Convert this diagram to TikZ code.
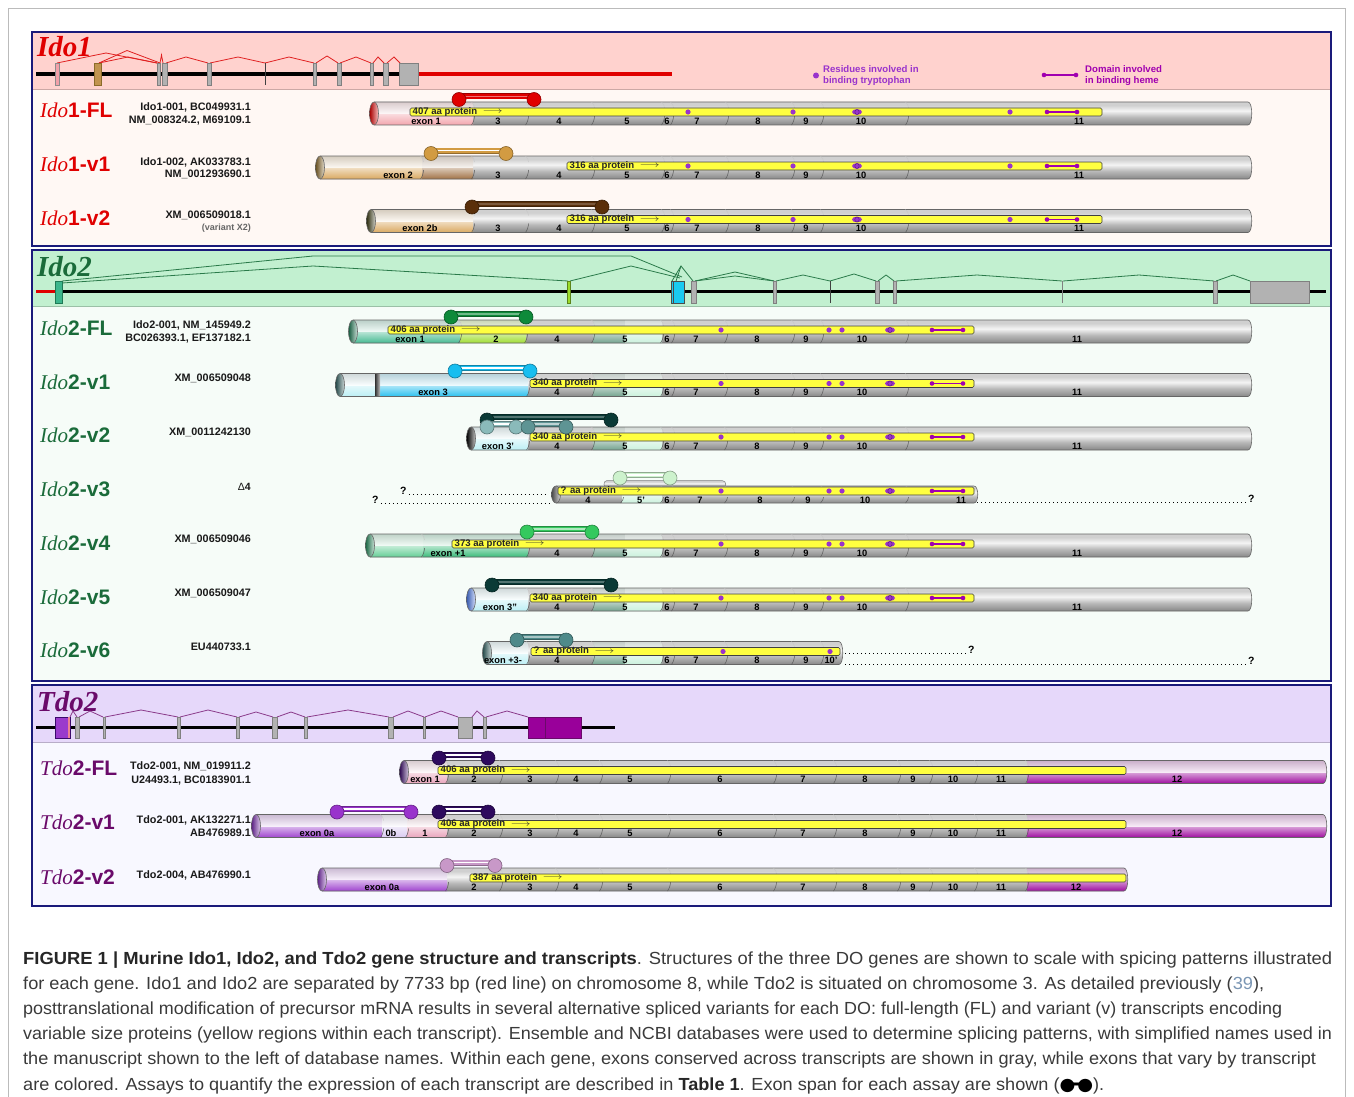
\documentclass[tikz,border=0pt]{standalone}
\usepackage{fontspec}
\usepackage{graphicx}
\setmainfont{Liberation Sans}
\newfontfamily\serifti{Liberation Serif}
\newfontfamily\dejavu{DejaVu Sans}

\definecolor{tubeA}{HTML}{D0D0D0}
\definecolor{tubeB}{HTML}{F4F4F4}
\definecolor{tubeC}{HTML}{888888}
\definecolor{tubeM}{HTML}{B8B8B8}
\definecolor{protyellow}{HTML}{FFFF40}
\definecolor{trypurple}{HTML}{9933CC}
\definecolor{domc}{HTML}{A000B0}
\definecolor{panelblue}{HTML}{1A1A7A}
\definecolor{ihd}{HTML}{FFD2CE}
\definecolor{ilow}{HTML}{FFF8F4}
\definecolor{iihd}{HTML}{C2F0D0}
\definecolor{iilow}{HTML}{F6FCF8}
\definecolor{thd}{HTML}{E6D8FA}
\definecolor{tlow}{HTML}{F8F8FF}
\definecolor{idoonered}{HTML}{E00000}
\definecolor{idotwogreen}{HTML}{1A6B3A}
\definecolor{tdopurple}{HTML}{6A0A6A}
\definecolor{iarc}{HTML}{E02020}
\definecolor{iiarc}{HTML}{2A7A4A}
\definecolor{tarc}{HTML}{8A3A8A}
\definecolor{ipink}{HTML}{F2A0A8}
\definecolor{itan}{HTML}{D8A458}
\definecolor{ibrown}{HTML}{9C6B3C}
\definecolor{itanE}{HTML}{8B6B2A}
\definecolor{iolive}{HTML}{3C3C14}
\definecolor{dbTan}{HTML}{D29B42}
\definecolor{dbBrown}{HTML}{5A2F0A}
\definecolor{iidkgreen}{HTML}{1F7A55}
\definecolor{iigreen}{HTML}{3CB68C}
\definecolor{iilime}{HTML}{9BDC2A}
\definecolor{iifive}{HTML}{6C9E88}
\definecolor{iimint}{HTML}{C8F0DA}
\definecolor{iiteal}{HTML}{2F6060}
\definecolor{iipale}{HTML}{B8EEF4}
\definecolor{iicyan}{HTML}{20BDEE}
\definecolor{iidkgreenb}{HTML}{238A5A}
\definecolor{iigreenb}{HTML}{5CCB90}
\definecolor{iigreenc}{HTML}{30B873}
\definecolor{iiblue}{HTML}{4A78E8}
\definecolor{iigray}{HTML}{606060}
\definecolor{dbGreen}{HTML}{0E8A3A}
\definecolor{dbCyan}{HTML}{18BEF0}
\definecolor{dbDark}{HTML}{0A3A36}
\definecolor{dbTealL}{HTML}{8ABABA}
\definecolor{dbTeal}{HTML}{5E9494}
\definecolor{dbPale}{HTML}{CDF2CD}
\definecolor{dbGreenb}{HTML}{34C95E}
\definecolor{dbTealb}{HTML}{4E8A8A}
\definecolor{tdark}{HTML}{3A0A6A}
\definecolor{tpink}{HTML}{E8A0B8}
\definecolor{tmag}{HTML}{99009A}
\definecolor{tpurple}{HTML}{9A3ACC}
\definecolor{tlav}{HTML}{D8C8F0}
\definecolor{tpurpleE}{HTML}{7A2AB0}
\definecolor{dbDkPurple}{HTML}{2E0A5E}
\definecolor{dbPurple}{HTML}{9933CC}
\definecolor{dbMauve}{HTML}{C898C8}
\definecolor{captext}{HTML}{3A3A3A}
\definecolor{capblue}{HTML}{7A96B4}
\definecolor{framegray}{HTML}{BBBBBB}

\pgfdeclareverticalshading{tubesh}{100bp}{color(0bp)=(tubeC); color(25bp)=(tubeC); color(42bp)=(tubeM); color(56bp)=(tubeB); color(68bp)=(tubeA); color(100bp)=(tubeA)}

\newsavebox\capbox
\newlength\caplen
\newcommand\capline[2]{\sbox\capbox{#2}\setlength\caplen{\wd\capbox}\pgfmathsetmacro\capsx{#1/\caplen}\scalebox{\capsx}[1]{\usebox\capbox}}

\def\hh{11.5}
\newcommand\tube[4]{%
 \shade[shading=tubesh] (#1+4,\Y-\hh) -- (#2-4,\Y-\hh) .. controls (#2+1,\Y-\hh) and (#2+1,\Y+\hh) .. (#2-4,\Y+\hh) -- (#1+4,\Y+\hh) -- cycle;
 \begin{scope}
  \clip (#1+4,\Y-\hh) -- (#2-4,\Y-\hh) .. controls (#2+1,\Y-\hh) and (#2+1,\Y+\hh) .. (#2-4,\Y+\hh) -- (#1+4,\Y+\hh) -- cycle;
  #4
 \end{scope}
 \draw[tubeline] (#1+4,\Y-\hh) -- (#2-4,\Y-\hh) .. controls (#2+1,\Y-\hh) and (#2+1,\Y+\hh) .. (#2-4,\Y+\hh) -- (#1+4,\Y+\hh);
 \shadedraw[left color=#3!75!black, right color=#3!25!white, draw=black!60, line width=0.6] (#1+4,\Y) ellipse [x radius=4.5, y radius=\hh];
}
\newcommand\sg[3]{%
 \shade[top color=#3!35!white, bottom color=#3] (#1,\Y) rectangle (#2,\Y+\hh+1);
 \shade[top color=#3!18!tubeA, bottom color=#3!8!white] (#1,\Y-\hh-1) rectangle (#2,\Y);
}
\newcommand\bd[1]{%
 \draw[bdline] (#1-1.5,\Y+\hh) .. controls (#1+0.5,\Y+\hh-2.5) and (#1+1.5,\Y+5) .. (#1+1.5,\Y+2.5);
 \draw[bdfaint] (#1-1.5,\Y-\hh) .. controls (#1+0.5,\Y-\hh+2) and (#1+1.5,\Y-8) .. (#1+1.5,\Y-5.5);
}
\newcommand\bds[1]{\foreach \bb in {#1} {\bd{\bb}}}
\newcommand\prot[4]{%
 \draw[protbox] (#2,\Y-5.5) rectangle (#3,\Y+2.5);
 \node[prottxt, anchor=west] (#1) at (#2+2.5,\Y-1.5) {#4\ \ \raisebox{0.5pt}{\scalebox{1.25}[0.9]{$\longrightarrow$}}};
}
\newcommand\elabs[1]{\foreach \px/\tx [count=\kk] in {#1} {\node[exlab] (\R l\kk) at (\px,\Y+7.6) {\tx};}}
\newcommand\ovdot[1]{\fill[trypurple] (#1,\Y-1.5) ellipse [x radius=5, y radius=2.9];
 \draw[trypurple!55!black, line width=0.4] (#1,\Y-1.5) ellipse [x radius=2.2, y radius=2.5];}
\newcommand\domainbar[2]{\draw[domc, line width=1.6] (#1,\Y-1.5) -- (#2,\Y-1.5);
 \fill[domc] (#1,\Y-1.5) circle [radius=2.3] (#2,\Y-1.5) circle [radius=2.3];}
\newcommand\trpA{\foreach \px in {688,793,1010} {\fill[trypurple] (\px,\Y-1.5) circle [radius=2.6];}\ovdot{857}\domainbar{1047}{1077}}
\newcommand\trpB{\foreach \px in {721,829,842} {\fill[trypurple] (\px,\Y-1.5) circle [radius=2.6];}\ovdot{890}\domainbar{932}{963}}
\newcommand\db[5]{%
 \draw[line width=6, #4!70!black] (#1,#3-3) -- (#2,#3-3);
 \draw[line width=4.8, #4] (#1,#3-3) -- (#2,#3-3);
 \draw[line width=1.5, #5] (#1,#3-3) -- (#2,#3-3);
 \filldraw[fill=#4, draw=#4!65!black, line width=0.6] (#1,#3) circle [radius=7] (#2,#3) circle [radius=7];
}
\newcommand\fiveseg{\sg{593}{625}{iifive}\sg{625}{662}{iimint}}
\newcommand\tlab[5]{\node[anchor=base west, inner sep=0, text=#2] (#1) at (40,#3) {\fontsize{21}{24}\selectfont{\serifti\itshape #4}\bfseries #5};}

\tikzset{
 tubeline/.style={draw=black!60, line width=0.6},
 bdline/.style={draw=black!65, line width=0.5},
 bdfaint/.style={draw=black!22, line width=0.4},
 protbox/.style={draw=black!75, fill=protyellow, line width=0.6, rounded corners=1.5},
 prottxt/.style={font=\fontsize{9.6}{10}\selectfont\bfseries, inner sep=0, text=black!85},
 exlab/.style={font=\fontsize{9.3}{10}\selectfont\bfseries, inner sep=0},
 acc/.style={font=\fontsize{10.8}{12}\selectfont\bfseries, anchor=base east, inner sep=0, text=black!90},
 gtitle/.style={font=\fontsize{29}{30}\selectfont\serifti\bfseries\itshape, anchor=base west, inner sep=0},
 panel/.style={draw=panelblue, line width=1.8},
 hdgray/.style={fill=black!30, draw=black!50, line width=0.5},
 dotline/.style={line width=0.9, dash pattern=on 0.9pt off 3.1pt},
 qm/.style={font=\fontsize{10.5}{12}\selectfont\bfseries, inner sep=0, anchor=base west},
 legtxt/.style={font=\fontsize{9.6}{10.8}\selectfont\bfseries, inner sep=0, anchor=west, align=left},
 captxt/.style={anchor=base west, inner sep=0, text=captext, font=\fontsize{17.5}{20}\selectfont},
}

\begin{document}
\begin{tikzpicture}[x=1pt,y=-1pt]
\useasboundingbox (0,0) rectangle (1354,1097);
\fill[white] (0,0) rectangle (1354,1097);
\draw[framegray, line width=0.8] (8.5,1105) -- (8.5,8.5) -- (1345.5,8.5) -- (1345.5,1105);

% ---------------- panels
\fill[ilow] (32,32) rectangle (1331,246);
\fill[ihd] (32,32) rectangle (1331,89);
\draw[ihd!80!black, line width=0.5] (32,89) -- (1331,89);
\fill[iilow] (32,250) rectangle (1331,681);
\fill[iihd] (32,250) rectangle (1331,306.5);
\draw[iihd!80!black, line width=0.5] (32,306.5) -- (1331,306.5);
\fill[tlow] (32,685) rectangle (1331,906);
\fill[thd] (32,685) rectangle (1331,742);
\draw[thd!80!black, line width=0.5] (32,742) -- (1331,742);

% ---------------- Ido1 header
\node[gtitle, text=idoonered] (tA) at (37,57) {Ido1};
\draw[line width=3.5] (36,74) -- (399,74);
\draw[line width=3.5, idoonered] (418,74) -- (672,74);
\begin{scope}[iarc, line width=0.8]
\draw (57,63) -- (106,53) -- (157,63);
\draw (99,63) -- (127,50.5) -- (160,63);
\draw (99,63) -- (128,57) -- (157,63);
\draw (160,63) -- (161.5,55) -- (163,63);
\draw (166,63) -- (186,57) -- (208,63);
\draw (210,63) -- (238,57) -- (265,63);
\draw (265,63) -- (289,57) -- (314,63);
\draw (316,63) -- (327,56) -- (338,63);
\draw (340,63) -- (356,57) -- (371,63);
\draw (373,63) -- (378,57) -- (384,63);
\draw (387,63) -- (394,57) -- (400,63);
\end{scope}
\draw[fill=ipink, draw=black!45, line width=0.5] (55,63) rectangle (59,85.5);
\draw[fill=itan!90!black, draw=itanE, line width=0.6] (94,63) rectangle (101.5,85.5);
\foreach \a/\bb in {157/160,162/167,207/211,313/316,337/341,370/373,383/388,399/418}
  {\draw[hdgray] (\a,63) rectangle (\bb,85.5);}
\draw[black!75, line width=0.8] (265,63) -- (265,85.5);
% legend
\fill[trypurple] (816,75.5) circle [radius=3];
\node[legtxt, text=trypurple] (legA) at (823,75.5) {Residues involved in\\binding tryptophan};
\draw[domc, line width=1.6] (1044,75) -- (1076,75);
\fill[domc] (1044,75) circle [radius=2.3] (1076,75) circle [radius=2.3];
\node[legtxt, text=domc] (legB) at (1085,75.5) {Domain involved\\in binding heme};

% ---------------- Ido1 transcripts
\tlab{lA1}{idoonered}{118}{Ido}{1-FL}
\tlab{lA2}{idoonered}{171}{Ido}{1-v1}
\tlab{lA3}{idoonered}{225}{Ido}{1-v2}
\node[acc] (aA1) at (251,110.5) {Ido1-001, BC049931.1};
\node[acc] (aA2) at (251,123.5) {NM\_008324.2, M69109.1};
\node[acc] (aA3) at (251,165.5) {Ido1-002, AK033783.1};
\node[acc] (aA4) at (251,177.5) {NM\_001293690.1};
\node[acc] (aA5) at (251,218.5) {XM\_006509018.1};
\node[acc, text=black!60, font=\fontsize{9}{10}\selectfont\bfseries] (aA6) at (251,230) {(variant X2)};

% Ido1-FL
\def\Y{113.5}\def\R{ia}
\tube{370}{1252}{idoonered}{\sg{374}{473}{ipink}}
\bds{473,527,593,663,672,727,793,822,907}
\prot{iap}{410}{1102}{407 aa protein}
\elabs{426/exon 1,498/3,559/4,627/5,667/6,697/7,758/8,806/9,861/10,1079/11}
\trpA
\db{459}{534}{99.5}{idoonered}{idoonered!55!white}

% Ido1-v1
\def\Y{167.5}\def\R{ib}
\tube{316}{1252}{itanE}{\sg{320}{422}{itan}\sg{422}{473}{ibrown}}
\bds{422,473,527,593,663,672,727,793,822,907}
\prot{ibp}{567}{1102}{316 aa protein}
\elabs{398/exon 2,498/3,559/4,627/5,667/6,697/7,758/8,806/9,861/10,1079/11}
\trpA
\db{431}{506}{153.5}{dbTan}{white}

% Ido1-v2
\def\Y{221}\def\R{ic}
\tube{367}{1252}{iolive}{\sg{371}{473}{itan}}
\bds{473,527,593,663,672,727,793,822,907}
\prot{icp}{567}{1102}{316 aa protein}
\elabs{420/exon 2b,498/3,559/4,627/5,667/6,697/7,758/8,806/9,861/10,1079/11}
\trpA
\db{472}{602}{207}{dbBrown}{dbBrown!80!white}

% ---------------- Ido2 header
\node[gtitle, text=idotwogreen] (tB) at (37,276) {Ido2};
\draw[line width=3.5, idoonered] (36,291.7) -- (56,291.7);
\draw[line width=3.5] (56,291.7) -- (1326,291.7);
\begin{scope}[iiarc, line width=0.8]
\draw (62,281) -- (313,256) -- (631,256) -- (682,277);
\draw (62,283) -- (313,266) -- (568,281);
\draw (570,281) -- (631,266) -- (680,278);
\draw (672,281) -- (681,266) -- (693,281);
\draw (676,281) -- (681,266);
\draw (695,281) -- (735,272) -- (774,281);
\draw (695,281) -- (735,276) -- (774,281);
\draw (776,281) -- (803,275) -- (830,281);
\draw (830,281) -- (854,274) -- (876,281);
\draw (878,281) -- (886,275) -- (894,281);
\draw (896,281) -- (977,275) -- (1062,281);
\draw (1063,281) -- (1139,275) -- (1214,281);
\draw (1216,281) -- (1233,275) -- (1250,281);
\end{scope}
\draw[fill=iigreen, draw=iidkgreen, line width=0.6] (55,281) rectangle (62,303);
\draw[fill=iilime, draw=iilime!60!black, line width=0.5] (567,281) rectangle (570,303);
\draw[fill=iicyan!80!cyan, draw=black!70, line width=0.6] (671,281) rectangle (684,303);
\draw[black!70, line width=0.6] (673,281) -- (673,303);
\foreach \a/\bb in {691/696,773/776,875/879,893/896,1213/1217,1250/1309}
  {\draw[hdgray] (\a,281) rectangle (\bb,303);}
\draw[black!75, line width=0.8] (830,281) -- (830,303);
\draw[black!50, line width=0.8] (1062,281) -- (1062,303);

% ---------------- Ido2 transcripts
\tlab{lB1}{idotwogreen}{335.5}{Ido}{2-FL}
\tlab{lB2}{idotwogreen}{389.5}{Ido}{2-v1}
\tlab{lB3}{idotwogreen}{442.5}{Ido}{2-v2}
\tlab{lB4}{idotwogreen}{496.5}{Ido}{2-v3}
\tlab{lB5}{idotwogreen}{550.5}{Ido}{2-v4}
\tlab{lB6}{idotwogreen}{604.5}{Ido}{2-v5}
\tlab{lB7}{idotwogreen}{657.5}{Ido}{2-v6}
\node[acc] (aB1) at (251,328.5) {Ido2-001, NM\_145949.2};
\node[acc] (aB2) at (251,341) {BC026393.1, EF137182.1};
\node[acc] (aB3) at (251,381.5) {XM\_006509048};
\node[acc] (aB4) at (251,435.5) {XM\_0011242130};
\node[acc, font=\fontsize{10.5}{12}\selectfont] (aB5) at (251,490.5) {Δ\textbf{4}};
\node[acc] (aB6) at (251,542.5) {XM\_006509046};
\node[acc] (aB7) at (251,596.5) {XM\_006509047};
\node[acc] (aB8) at (251,650.5) {EU440733.1};

% Ido2-FL
\def\Y{331.5}\def\R{ja}
\tube{349}{1252}{iidkgreen}{\sg{353}{460}{iigreen}\sg{460}{526}{iilime}\fiveseg}
\bds{460,526,593,662,673,726,793,822,907}
\prot{jap}{388}{974}{406 aa protein}
\elabs{410/exon 1,496/2,557/4,625/5,667/6,696/7,757/8,806/9,862/10,1077/11}
\trpB
\db{451}{526}{317}{dbGreen}{dbGreen!60!white}

% Ido2-v1
\def\Y{385}\def\R{jb}
\tube{336}{1252}{iiteal}{\sg{340}{376}{iipale}\sg{380}{528}{iicyan}\fiveseg
  \shade[left color=black!75, right color=black!25] (375.5,\Y-\hh-1) rectangle (380,\Y+\hh+1);}
\bds{528,593,662,673,726,793,822,907}
\prot{jbp}{530}{974}{340 aa protein}
\elabs{433/exon 3,557/4,625/5,667/6,696/7,757/8,806/9,862/10,1077/11}
\trpB
\db{455}{530}{371}{dbCyan}{white}

% Ido2-v2
\def\Y{438.5}\def\R{jc}
\tube{467}{1252}{black}{\sg{471}{528}{iipale}\fiveseg}
\bds{528,593,662,673,726,793,822,907}
\prot{jcp}{530}{974}{340 aa protein}
\elabs{498/exon 3',557/4,625/5,667/6,696/7,757/8,806/9,862/10,1077/11}
\trpB
\db{487}{611}{420}{dbDark}{dbDark!70!white}
\db{487}{516}{427}{dbTealL}{white}
\db{528}{566}{427}{dbTeal}{dbTeal!40!white}

% Ido2-v3
\def\hh{8.5}\def\Y{494.5}\def\R{jd}
\shadedraw[shading=tubesh, draw=black!50, line width=0.5] (607,480.5) -- (722,480.5) .. controls (727,480.5) and (727,488) .. (722,488) -- (607,488) .. controls (603,488) and (603,480.5) .. (607,480.5) -- cycle;
\tube{552}{978}{iigray}{\sg{622}{662}{iimint}}
\bds{622,662,673,726,793,822,907}
\def\Y{492.5}
\prot{jdp}{558}{974}{? aa protein}
\elabs{588/4,641/5',667/6,700/7,760/8,808/9,865/10,961/11}
\trpB
\def\hh{11.5}
\db{620}{670}{478}{dbPale}{white}
\node[qm] (qa) at (400,494) {?};
\coordinate (qae) at (548,494);
\draw[dotline] ([xshift=2pt]qa.base east) -- (qae);
\node[qm] (qb) at (372,503) {?};
\coordinate (qbe) at (551,503);
\draw[dotline] ([xshift=2pt]qb.base east) -- (qbe);
\node[qm] (qc) at (1248,502) {?};
\coordinate (qcs) at (977,502);
\draw[dotline] (qcs) -- ([xshift=-2pt]qc.base west);

% Ido2-v4
\def\Y{545.5}\def\R{je}
\tube{366}{1252}{iidkgreenb}{\sg{370}{423}{iigreenb}\sg{423}{528}{iigreenc}\fiveseg}
\bds{423,528,593,662,673,726,793,822,907}
\prot{jep}{452}{974}{373 aa protein}
\elabs{448/exon +1,557/4,625/5,667/6,696/7,757/8,806/9,862/10,1077/11}
\trpB
\db{527}{592}{532}{dbGreenb}{dbGreenb!40!white}

% Ido2-v5
\def\Y{599.5}\def\R{jf}
\tube{467}{1252}{iiblue}{\sg{471}{528}{iipale}\fiveseg}
\bds{528,593,662,673,726,793,822,907}
\prot{jfp}{530}{974}{340 aa protein}
\elabs{500/exon 3'',557/4,625/5,667/6,696/7,757/8,806/9,862/10,1077/11}
\trpB
\db{492}{611}{585}{dbDark}{dbDark!70!white}

% Ido2-v6
\def\Y{653}\def\R{jg}
\tube{483}{843}{iiteal}{\sg{487}{528}{iipale}\fiveseg}
\bds{528,593,662,673,726,793,822}
\prot{jgp}{531}{840}{? aa protein}
\elabs{503/exon +3-,557/4,625/5,667/6,696/7,757/8,806/9,831/10'}
\foreach \px in {723,830} {\fill[trypurple] (\px,\Y-1.5) circle [radius=2.6];}
\db{517}{566}{640}{dbTealb}{dbTealb!50!white}
\node[qm] (qd) at (968,653) {?};
\coordinate (qds) at (845,653);
\draw[dotline] (qds) -- ([xshift=-2pt]qd.base west);
\node[qm] (qe) at (1248,664) {?};
\coordinate (qes) at (845,664);
\draw[dotline] (qes) -- ([xshift=-2pt]qe.base west);

% ---------------- Tdo2 header
\node[gtitle, text=tdopurple] (tC) at (37,711) {Tdo2};
\draw[line width=3.5] (36,727.3) -- (615,727.3);
\begin{scope}[tarc, line width=0.8]
\draw (70,717) -- (73,711) -- (77,717);
\draw (79,717) -- (90,711) -- (103,717);
\draw (105,717) -- (141,710) -- (178,717);
\draw (180,717) -- (208,710) -- (237,717);
\draw (239,717) -- (256,712) -- (273,717);
\draw (277,717) -- (291,712) -- (305,717);
\draw (307,717) -- (348,710) -- (389,717);
\draw (393,717) -- (408,711) -- (424,717);
\draw (425,717) -- (441,711) -- (458,717);
\draw (472,717) -- (477,711) -- (484,717);
\draw (486,717) -- (507,711) -- (528,717);
\end{scope}
\draw[fill=tpurple, draw=tdark, line width=0.5] (55,717) rectangle (70,738.3);
\fill[tpink!80!red] (67.5,717.3) rectangle (69.7,738);
\foreach \a/\bb in {75/79,103/105,177/180,236/239,272/277,304/307,388/393,423/425,458/472,483/486}
  {\draw[hdgray] (\a,717) rectangle (\bb,738.3);}
\draw[fill=tmag, draw=tdopurple, line width=0.6] (528,717) rectangle (545,738.3);
\draw[fill=tmag, draw=tdopurple, line width=0.6] (545,717) rectangle (581,738.3);

% ---------------- Tdo2 transcripts
\tlab{lC1}{tdopurple}{775.5}{Tdo}{2-FL}
\tlab{lC2}{tdopurple}{829.5}{Tdo}{2-v1}
\tlab{lC3}{tdopurple}{884}{Tdo}{2-v2}
\node[acc] (aC1) at (251,769.5) {Tdo2-001, NM\_019911.2};
\node[acc] (aC2) at (251,783.5) {U24493.1, BC0183901.1};
\node[acc] (aC3) at (251,823.5) {Tdo2-001, AK132271.1};
\node[acc] (aC4) at (251,836) {AB476989.1};
\node[acc] (aC5) at (251,878.5) {Tdo2-004, AB476990.1};

% Tdo2-FL
\def\Y{772}\def\R{ka}
\tube{400}{1327}{tdark}{\sg{404}{447}{tpink}\sg{1027}{1330}{tmag}}
\bds{447,501,557,601,669,775,835,899,931,976,1027}
\prot{kap}{438}{1126}{406 aa protein}
\elabs{425/exon 1,474/2,530/3,576/4,630/5,720/6,803/7,865/8,913/9,953/10,1001/11,1177/12}
\db{439}{488}{758}{dbDkPurple}{white}

% Tdo2-v1
\def\Y{826}\def\R{kb}
\tube{252}{1327}{tpurpleE}{\sg{256}{382}{tpurple}\sg{382}{407}{tlav}\sg{407}{447}{tpink}\sg{1027}{1330}{tmag}}
\bds{382,407,447,501,557,601,669,775,835,899,931,976,1027}
\prot{kbp}{438}{1126}{406 aa protein}
\elabs{317/exon 0a,391/0b,425/1,474/2,530/3,576/4,630/5,720/6,803/7,865/8,913/9,953/10,1001/11,1177/12}
\db{337}{411}{812}{dbPurple}{white}
\db{439}{488}{812}{dbDkPurple}{white}

% Tdo2-v2
\def\Y{879.5}\def\R{kc}
\tube{318}{1128}{tpurpleE}{\sg{322}{447}{tpurple}\sg{1027}{1130}{tmag}}
\bds{447,501,557,601,669,775,835,899,931,976,1027}
\prot{kcp}{470}{1126}{387 aa protein}
\elabs{382/exon 0a,474/2,530/3,576/4,630/5,720/6,803/7,865/8,913/9,953/10,1001/11,1076/12}
\db{447}{495}{865.5}{dbMauve}{white}

% panel borders
\draw[panel] (32,32) rectangle (1331,246);
\draw[panel] (32,250) rectangle (1331,681);
\draw[panel] (32,685) rectangle (1331,906);

% ---------------- caption
\node[captxt] (c1) at (23,964) {\capline{1309}{{\color{black!85}\bfseries FIGURE 1 | Murine Ido1, Ido2, and Tdo2 gene structure and transcripts}. Structures of the three DO genes are shown to scale with spicing patterns illustrated}};
\node[captxt] (c2) at (23,989) {\capline{1241}{for each gene. Ido1 and Ido2 are separated by 7733 bp (red line) on chromosome 8, while Tdo2 is situated on chromosome 3. As detailed previously ({\color{capblue}39}),}};
\node[captxt] (c3) at (23,1014) {\capline{1259}{posttranslational modification of precursor mRNA results in several alternative spliced variants for each DO: full-length (FL) and variant (v) transcripts encoding}};
\node[captxt] (c4) at (23,1039) {\capline{1309}{variable size proteins (yellow regions within each transcript). Ensemble and NCBI databases were used to determine splicing patterns, with simplified names used in}};
\node[captxt] (c5) at (23,1064) {\capline{1293}{the manuscript shown to the left of database names. Within each gene, exons conserved across transcripts are shown in gray, while exons that vary by transcript}};
\node[captxt] (c6) at (23,1090) {\capline{1081}{are colored. Assays to quantify the expression of each transcript are described in {\color{black!85}\bfseries Table 1}. Exon span for each assay are shown ({\color{black}\dejavu ●\kern-0.25em━\kern-0.25em●}).}};
\end{tikzpicture}
\end{document}
